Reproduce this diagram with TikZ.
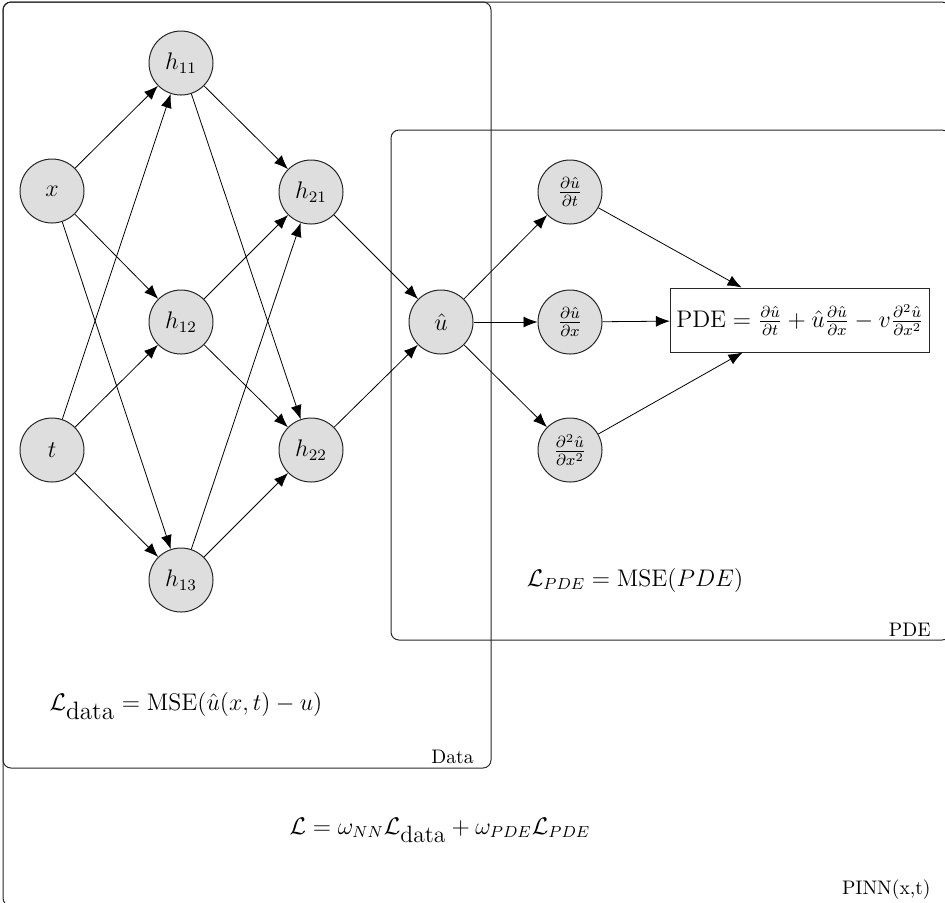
\documentclass[tikz,border=0pt]{standalone}
\usetikzlibrary{arrows.meta}
\begin{document}
\begin{tikzpicture}[x=0.5pt,y=-0.5pt,
  every node/.style={font=\fontsize{11.8}{14}\selectfont},
  latent/.style={circle,draw=black!85,fill=black!13,minimum size=32pt,inner sep=0pt,line width=0.5pt},
  factorbox/.style={rectangle,draw=black!85,fill=white,minimum height=32pt,inner sep=3pt,line width=0.5pt},
  edge/.style={-{Latex[length=7pt,width=5.5pt]},line width=0.4pt},
  plate/.style={draw=black!85,rounded corners=4pt,line width=0.5pt},
  platelabel/.style={anchor=base east,inner sep=0pt,font=\fontsize{9.8}{11}\selectfont},
  txt/.style={font=\fontsize{11.8}{14}\selectfont}]
\useasboundingbox (0,0) rectangle (945,902);
% plates
\draw[plate] (3,2) rectangle (950,906);
\draw[plate] (3,2) rectangle (491,768);
\draw[plate] (391,130) rectangle (950,640);
\node[platelabel] (lblData) at (474,763) {Data};
\node[platelabel] (lblPDE) at (931,636) {PDE};
\node[platelabel] (lblPINN) at (931,894) {PINN(x,t)};
% nodes
\node[latent] (x) at (52,191) {$x$};
\node[latent] (t) at (52,450) {$t$};
\node[latent] (h11) at (181,63) {$h_{11}$};
\node[latent] (h12) at (181,322) {$h_{12}$};
\node[latent] (h13) at (181,580) {$h_{13}$};
\node[latent] (h21) at (311,192) {$h_{21}$};
\node[latent] (h22) at (311,450) {$h_{22}$};
\node[latent] (u) at (441,322) {$\hat{u}$};
\node[latent] (ut) at (570,192) {$\frac{\partial \hat{u}}{\partial t}$};
\node[latent] (ux) at (570,322) {$\frac{\partial \hat{u}}{\partial x}$};
\node[latent] (uxx) at (570,450) {$\frac{\partial^2 \hat{u}}{\partial x^2}$};
\node[factorbox] (pde) at (800,320) {$\mathrm{PDE} = \frac{\partial \hat{u}}{\partial t} + \hat{u}\frac{\partial \hat{u}}{\partial x} - v\frac{\partial^2 \hat{u}}{\partial x^2}$};
% text
\node[txt,font=\fontsize{12.6}{15}\selectfont] (Ldata) at (186,706) {$\mathcal{L}_{\mbox{data}} = \mathrm{MSE}(\hat{u}(x,t) - u)$};
\node[txt] (Lpde) at (635,580) {$\mathcal{L}_{PDE} = \mathrm{MSE}(PDE)$};
\node[txt] (L) at (440,830) {$\mathcal{L} = \omega_{NN}\mathcal{L}_{\mbox{data}} + \omega_{PDE}\mathcal{L}_{PDE}$};
% edges
\foreach \a in {x,t}{\foreach \b in {h11,h12,h13}{\draw[edge] (\a) -- (\b);}}
\foreach \a in {h11,h12,h13}{\foreach \b in {h21,h22}{\draw[edge] (\a) -- (\b);}}
\draw[edge] (h21) -- (u);
\draw[edge] (h22) -- (u);
\draw[edge] (u) -- (ut);
\draw[edge] (u) -- (ux);
\draw[edge] (u) -- (uxx);
\draw[edge] (ut) -- (pde);
\draw[edge] (ux) -- (pde);
\draw[edge] (uxx) -- (pde);
\end{tikzpicture}
\end{document}
